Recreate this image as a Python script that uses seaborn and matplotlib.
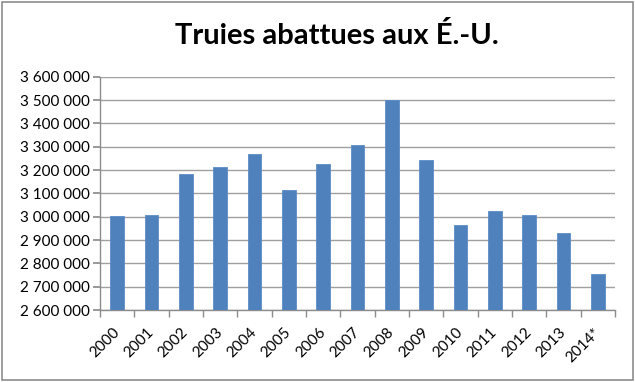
import matplotlib
matplotlib.use("Agg")
import matplotlib.pyplot as plt
import matplotlib.transforms as mtransforms
import seaborn as sns
import pandas as pd
from matplotlib.ticker import FuncFormatter, MultipleLocator
from matplotlib.patches import Rectangle

years = ["2000", "2001", "2002", "2003", "2004", "2005", "2006", "2007",
         "2008", "2009", "2010", "2011", "2012", "2013", "2014*"]
sows = [3003000, 3008000, 3183000, 3211000, 3270000, 3114000, 3226000, 3306000,
        3499000, 3241000, 2963000, 3023000, 3006000, 2929000, 2754000]
title = "Truies abattues aux É.-U."

df = pd.DataFrame({"year": years, "sows": sows})

sns.set_theme(style="white")
plt.rcParams["font.family"] = ["Lato", "DejaVu Sans"]

fig = plt.figure(figsize=(6.35, 3.82), dpi=100)
ax = fig.add_axes([100 / 635, 1 - 310 / 382, 515 / 635, (310 - 76.7) / 382])

sns.barplot(data=df, x="year", y="sows", color="#4F81BD", saturation=1,
            width=0.39, ax=ax, zorder=3, edgecolor="#5B8CC6", linewidth=0.6)

ax.set_ylim(2600000, 3600000)
ax.set_xlim(-0.5, len(years) - 0.5)
ax.yaxis.set_major_locator(MultipleLocator(100000))
ax.yaxis.set_major_formatter(FuncFormatter(lambda v, p: f"{int(round(v)):,}".replace(",", " ")))
ax.grid(axis="y", color="#A0A0A0", linewidth=1.0, zorder=0)
ax.set_axisbelow(True)
ax.set_xlabel("")
ax.set_ylabel("")

for s in ["top", "right"]:
    ax.spines[s].set_visible(False)
for s in ["left", "bottom"]:
    ax.spines[s].set_color("#8C8C8C")
    ax.spines[s].set_linewidth(1.0)

ax.tick_params(axis="y", which="major", direction="out", length=5, color="#8C8C8C",
               labelsize=11, labelcolor="black", left=True, pad=2)
ax.set_xticks(range(len(years)))
ax.set_xticklabels(years, rotation=45, ha="right", rotation_mode="anchor")
ax.set_xticks([i - 0.5 for i in range(len(years) + 1)], minor=True)
ax.tick_params(axis="x", which="major", length=0, labelsize=11, labelcolor="black", pad=11)
ax.tick_params(axis="x", which="minor", direction="out", length=5, color="#8C8C8C", bottom=True)
offset = mtransforms.ScaledTranslation(-5 / 100, 0, fig.dpi_scale_trans)
for lbl in ax.get_xticklabels():
    lbl.set_transform(lbl.get_transform() + offset)

fig.text(337 / 635, 1 - 36 / 382, title, ha="center", va="center",
         fontsize=21, fontweight="bold", color="black")

fig.patches.append(Rectangle((2 / 635, 2 / 382), 631 / 635, 378 / 382,
                             transform=fig.transFigure, fill=False,
                             edgecolor="#8C8C8C", linewidth=1.2))

fig.savefig("out.png", dpi=100)
